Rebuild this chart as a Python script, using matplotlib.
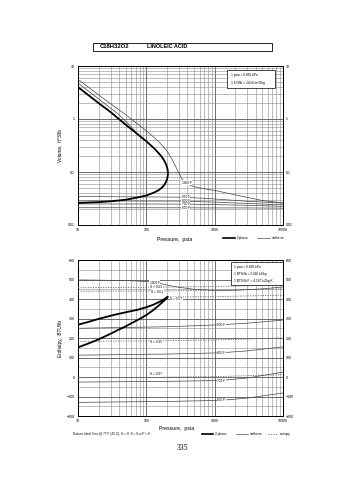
import matplotlib
matplotlib.use("Agg")
import matplotlib.pyplot as plt
from matplotlib.lines import Line2D
from matplotlib.patches import Rectangle
from matplotlib.ticker import LogLocator, NullFormatter, MultipleLocator, FixedLocator

plt.rcParams['font.family'] = ['Liberation Sans', 'DejaVu Sans']

# ---- volume chart data (psia, ft^3/lb) ----
p_dome_v = [10, 20, 30, 50, 70, 100, 130, 150, 170, 185, 195, 202, 206, 207,
            205, 200, 192, 180, 165, 150, 130, 100, 70, 50, 30, 20, 10]
v_dome = [0.026, 0.027, 0.028, 0.030, 0.0325, 0.036, 0.041, 0.045, 0.051, 0.058,
          0.066, 0.075, 0.085, 0.095, 0.11, 0.125, 0.145, 0.17, 0.20, 0.23,
          0.28, 0.38, 0.55, 0.78, 1.35, 2.0, 4.0]

p_1000_v = [10, 20, 50, 100, 150, 200, 240, 270, 300, 330, 370, 430, 500, 600,
            1000, 2000, 5000, 10000]
v_1000 = [5.6, 2.85, 1.2, 0.6, 0.38, 0.25, 0.17, 0.125, 0.095, 0.075, 0.064,
          0.057, 0.053, 0.050, 0.045, 0.037, 0.029, 0.026]

p_900vap = [10, 20, 40, 70]
v_900vap = [4.75, 2.4, 1.2, 0.58]

p_liq_v = [10, 350, 1000, 3000, 10000]
v_liq = {
    "900 F": [0.0345, 0.0335, 0.031, 0.028, 0.026],
    "800 F": [0.0285, 0.0282, 0.027, 0.0255, 0.024],
    "700 F": [0.025, 0.0248, 0.0243, 0.0235, 0.0225],
    "600 F": [0.0212, 0.0211, 0.0210, 0.0210, 0.0208],
}

# ---- enthalpy chart data (psia, BTU/lb) ----
p_dome_h = [10, 15, 20, 30, 38, 50, 60, 80, 100, 125, 150, 175, 200, 205,
            200, 175, 150, 125, 100, 75, 50, 33, 20, 15, 10]
h_dome = [152, 175, 193, 222, 240, 260, 275, 298, 318, 342, 365, 386, 405, 412,
          408, 395, 383, 370, 358, 345, 332, 318, 298, 285, 268]

p_1000_h = [10, 50, 100, 150, 200, 300, 500, 1000, 2000, 5000, 10000]
h_1000 = [498, 495, 490, 482, 472, 460, 450, 445, 445, 452, 462]

p_iso_h = [10, 220, 1200, 3000, 10000]
h_liq = {
    "900 F": [250, 258, 268, 276, 292],
    "800 F": [112, 118, 124, 134, 155],
    "700 F": [-26, -22, -18, -5, 25],
    "600 F": [-130, -125, -120, -108, -82],
}

p_ent = [10, 100, 1000, 10000]
h_ent = {
    "S = 0.63": [458, 460, 464, 472],
    "S = 0.61": [440, 441, 444, 452],
    "S = 0.35": [183, 185, 190, 200],
    "S = 0.07": [-3, -2, 2, 12],
}
p_ent57 = [205, 1000, 10000]
h_ent57 = [410, 412, 420]

fig = plt.figure(figsize=(3.55, 4.80), dpi=100)


def style_axes(ax):
    ax.set_xscale('log')
    ax.set_xlim(10, 10000)
    ax.xaxis.set_major_locator(FixedLocator([10, 100, 1000, 10000]))
    ax.xaxis.set_major_formatter(plt.FuncFormatter(lambda v, p: f"{v:g}"))
    ax.xaxis.set_minor_locator(LogLocator(subs=range(2, 10)))
    ax.xaxis.set_minor_formatter(NullFormatter())
    ax.grid(which='major', color='#555555', lw=0.6)
    ax.grid(which='minor', color='#8a8a8a', lw=0.4)
    ax.tick_params(which='both', length=0, labelsize=2.6, pad=2,
                   labelright=True, right=True)
    for s in ax.spines.values():
        s.set_linewidth(0.7)
    ax.set_axisbelow(True)


def tag(ax, x, y, s):
    ax.text(x, y, s, fontsize=2.3, va='center', ha='left', zorder=5,
            bbox=dict(fc='white', ec='none', pad=0.4))


# ---- top: volume ----
ax1 = fig.add_axes([0.2197, 0.53125, 0.5775, 0.33125])
style_axes(ax1)
ax1.set_yscale('log')
ax1.set_ylim(0.01, 10)
ax1.yaxis.set_major_locator(FixedLocator([0.01, 0.1, 1, 10]))
ax1.yaxis.set_major_formatter(plt.FuncFormatter(lambda v, p: f"{v:g}"))
ax1.yaxis.set_minor_locator(LogLocator(subs=range(2, 10)))
ax1.yaxis.set_minor_formatter(NullFormatter())

for name, v in v_liq.items():
    ax1.plot(p_liq_v, v, color='#444444', lw=0.5, zorder=3)
    tag(ax1, 330, v[1], name)
ax1.plot(p_900vap, v_900vap, color='#444444', lw=0.5, zorder=3)
ax1.plot(p_1000_v, v_1000, color='#444444', lw=0.5, zorder=3)
tag(ax1, 330, 0.063, "1000 F")
ax1.plot(p_dome_v, v_dome, color='black', lw=1.3, zorder=4)

ax1.set_xlabel("Pressure,  psia", fontsize=3.8)
ax1.xaxis.set_label_coords(0.473, -0.075)
ax1.set_ylabel("Volume,  ft^3/lb", fontsize=3.4)
ax1.yaxis.set_label_coords(-0.075, 0.5)

ax1.add_patch(Rectangle((0.727, 0.862), 0.234, 0.113, transform=ax1.transAxes,
                        fc='white', ec='black', lw=0.5, zorder=6))
ax1.text(0.745, 0.945, "1 psia = 6.895 kPa", transform=ax1.transAxes,
         fontsize=2.3, va='center', zorder=7)
ax1.text(0.745, 0.895, "1 ft^3/lb = .0624 m^3/kg", transform=ax1.transAxes,
         fontsize=2.3, va='center', zorder=7)

# ---- bottom: enthalpy ----
ax2 = fig.add_axes([0.2197, 0.1333, 0.5775, 0.325])
style_axes(ax2)
ax2.set_ylim(-200, 600)
ax2.yaxis.set_major_locator(MultipleLocator(100))
ax2.yaxis.set_minor_locator(MultipleLocator(50))
ax2.yaxis.set_minor_formatter(NullFormatter())

for name, h in h_ent.items():
    ax2.plot(p_ent, h, color='#666666', lw=0.6, ls=(0, (1.5, 1.5)), zorder=3)
ax2.plot(p_ent57, h_ent57, color='#666666', lw=0.6, ls=(0, (1.5, 1.5)), zorder=3)
for name, h in h_liq.items():
    ax2.plot(p_iso_h, h, color='#444444', lw=0.5, zorder=3)
    tag(ax2, 1100, h[2], name)
ax2.plot(p_1000_h, h_1000, color='#444444', lw=0.5, zorder=3)
ax2.plot(p_dome_h, h_dome, color='black', lw=1.3, zorder=4)

tag(ax2, 112, 484, "1000 F")
tag(ax2, 112, 462, "S = 0.63")
tag(ax2, 118, 438, "S = 0.61")
tag(ax2, 225, 398, "S = 0.57")
tag(ax2, 115, 180, "S = 0.35")
tag(ax2, 112, 15, "S = 0.07")

ax2.set_xlabel("Pressure,  psia", fontsize=3.8)
ax2.xaxis.set_label_coords(0.483, -0.062)
ax2.set_ylabel("Enthalpy,  BTU/lb", fontsize=3.4)
ax2.yaxis.set_label_coords(-0.075, 0.5)

ax2.add_patch(Rectangle((0.746, 0.84), 0.254, 0.147, transform=ax2.transAxes,
                        fc='white', ec='black', lw=0.5, zorder=6))
for i, s in enumerate(["1 psia = 6.895 kPa", "1 BTU/lb = 2.326 kJ/kg",
                       "1 BTU/lb F = 4.187 kJ/kg K"]):
    ax2.text(0.762, 0.955 - i * 0.045, s, transform=ax2.transAxes,
             fontsize=2.3, va='center', zorder=7)

# ---- title box, legends, footer ----
fig.add_artist(Rectangle((93 / 355, 1 - 51 / 480), 179 / 355, 8 / 480,
                         transform=fig.transFigure, fc='none', ec='black', lw=0.6))
fig.text(100 / 355, 1 - 47 / 480, "C18H32O2", fontsize=4.2, weight='bold', va='center')
fig.text(147 / 355, 1 - 47 / 480, "LINOLEIC ACID", fontsize=4.0, weight='bold', va='center')


def leg(x0, x1, y, s, **kw):
    yy = 1 - y / 480
    fig.add_artist(Line2D([x0 / 355, x1 / 355], [yy, yy], transform=fig.transFigure, **kw))
    fig.text(x1 / 355 + 0.006, yy, s, fontsize=2.3, va='center')


leg(223, 235, 238, "2-phase", color='black', lw=1.2)
leg(257, 270, 238, "isotherm", color='#555555', lw=0.5)
leg(202, 213, 434, "2 phase", color='black', lw=1.2)
leg(236, 248, 434, "isotherm", color='#555555', lw=0.5)
leg(268, 278, 434, "entropy", color='#666666', lw=0.6, ls=(0, (1.5, 1.5)))

fig.text(73 / 355, 1 - 434 / 480,
         "Datum: Ideal Gas @ 77 F (25 C), H = 0, S = 0 at P = 0",
         fontsize=2.3, va='center')
fig.text(182 / 355, 1 - 448 / 480, "335", fontsize=5.5, ha='center', va='center',
         family=['Liberation Serif', 'DejaVu Serif'])

fig.savefig("out.png", dpi=100)
